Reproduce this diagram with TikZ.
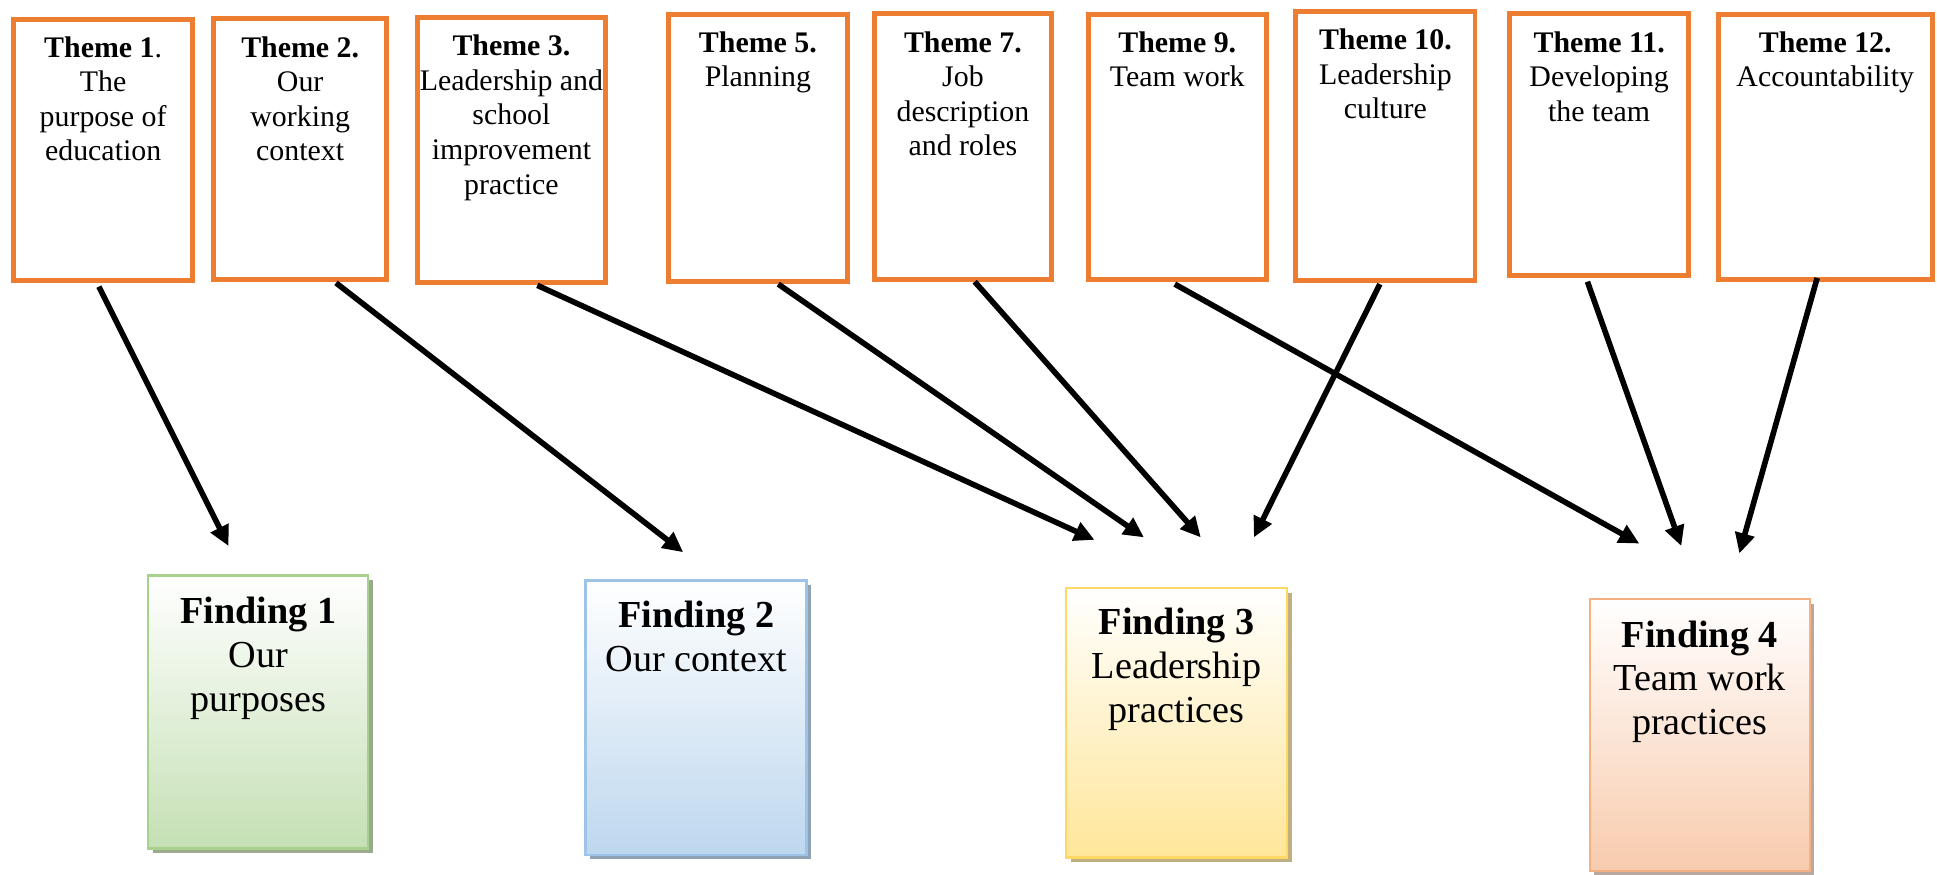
\documentclass[tikz,border=0pt]{standalone}
\usepackage{fontspec}
\setmainfont{Liberation Serif}
\usetikzlibrary{arrows.meta,shadows}
\definecolor{themeorange}{HTML}{ED7D31}
\definecolor{gborder}{HTML}{A9D18E}\definecolor{gfill}{HTML}{C5E0B4}\definecolor{gshadow}{HTML}{9AAA8C}
\definecolor{bborder}{HTML}{9DC3E6}\definecolor{bfill}{HTML}{BDD7EE}\definecolor{bshadow}{HTML}{8FA2B6}
\definecolor{yborder}{HTML}{FFD966}\definecolor{yfill}{HTML}{FFE699}\definecolor{yshadow}{HTML}{BFB082}
\definecolor{oborder}{HTML}{F4B183}\definecolor{ofill}{HTML}{F8CBAD}\definecolor{oshadow}{HTML}{B8A8A0}
\tikzset{
  tbox/.style 2 args={draw=themeorange, line width=2.2pt, fill=white, inner sep=0pt, anchor=north west,
    minimum width=#1*0.55pt, minimum height=#2*0.55pt},
  ttext/.style={anchor=north, align=center, inner sep=0pt, font=\fontsize{13.3}{15.4}\selectfont},
  fbox/.style 2 args={line width=1.1pt, inner sep=0pt, anchor=north west,
    minimum width=#1*0.55pt, minimum height=#2*0.55pt},
  ftext/.style={anchor=north, align=center, inner sep=0pt, font=\fontsize{17}{19.5}\selectfont},
  link/.style={line width=2.5pt, -{Triangle[length=9pt,width=8.5pt]}},
  fshadow/.style={drop shadow={shadow xshift=2pt, shadow yshift=-2pt, fill=#1, opacity=1}}
}
\begin{document}
\begin{tikzpicture}[x=0.55pt,y=-0.55pt]
\useasboundingbox (0,0) rectangle (1568,708);

% theme boxes
\node[tbox={145}{211}] (t1) at (9,14) {};
\node[tbox={140}{211}] (t2) at (171,13) {};
\node[tbox={152}{215}] (t3) at (336,12) {};
\node[tbox={145}{216}] (t5) at (539,10) {};
\node[tbox={143}{215}] (t7) at (706,9) {};
\node[tbox={144}{214}] (t9) at (879,10) {};
\node[tbox={145}{218}] (t10) at (1047,7) {};
\node[tbox={145}{212}] (t11) at (1220,9) {};
\node[tbox={173}{214}] (t12) at (1389,10) {};

\node[ttext] (t1x) at (t1.north |- 0,29) {\textbf{Theme 1}.\\The\\purpose of\\education};
\node[ttext] (t2x) at (t2.north |- 0,29) {\textbf{Theme 2.}\\Our\\working\\context};
\node[ttext] (t3x) at (t3.north |- 0,28) {\textbf{Theme 3.}\\Leadership and\\school\\improvement\\practice};
\node[ttext] (t5x) at (t5.north |- 0,25) {\textbf{Theme 5.}\\Planning};
\node[ttext] (t7x) at (t7.north |- 0,25) {\textbf{Theme 7.}\\Job\\description\\and roles};
\node[ttext] (t9x) at (t9.north |- 0,25) {\textbf{Theme 9.}\\Team work};
\node[ttext] (t10x) at (t10.north |- 0,23) {\textbf{Theme 10.}\\Leadership\\culture};
\node[ttext] (t11x) at (t11.north |- 0,25) {\textbf{Theme 11.}\\Developing\\the team};
\node[ttext] (t12x) at (t12.north |- 0,25) {\textbf{Theme 12.}\\Accountability};

% finding boxes
\node[fbox={178}{221}, draw=gborder, top color=white, bottom color=gfill, fshadow=gshadow] (f1) at (119,465) {};
\node[fbox={179}{222}, draw=bborder, top color=white, bottom color=bfill, fshadow=bshadow] (f2) at (473,469) {};
\node[fbox={179}{218}, draw=yborder, top color=white, bottom color=yfill, fshadow=yshadow] (f3) at (862,475) {};
\node[fbox={178}{220}, draw=oborder, top color=white, bottom color=ofill, fshadow=oshadow] (f4) at (1286,484) {};

\node[ftext] (f1x) at ([shift={(0,18)}]f1.north) {\textbf{Finding 1}\\Our\\purposes};
\node[ftext] (f2x) at ([shift={(0,17)}]f2.north) {\textbf{Finding 2}\\Our context};
\node[ftext] (f3x) at ([shift={(0,17)}]f3.north) {\textbf{Finding 3}\\Leadership\\practices};
\node[ftext] (f4x) at ([shift={(0,18)}]f4.north) {\textbf{Finding 4}\\Team work\\practices};

% arrow tips (free ends)
\coordinate (e1) at (185,442);
\coordinate (e2) at (553,447);
\coordinate (e3) at (886,437);
\coordinate (e4) at (926,435);
\coordinate (e5) at (972,435);
\coordinate (e6) at (1015,435);
\coordinate (e7) at (1327,440);
\coordinate (e8) at (1361,442);
\coordinate (e9) at (1408,448);

\draw[link] ([shift={(-3.5,3)}]t1.south) -- (e1);
\draw[link] ([shift={(29,1)}]t2.south) -- (e2);
\draw[link] ([shift={(21,0)}]t3.south) -- (e3);
\draw[link] ([shift={(16.5,0)}]t5.south) -- (e4);
\draw[link] ([shift={(9.5,0)}]t7.south) -- (e5);
\draw[link] ([shift={(-4.5,1)}]t10.south) -- (e6);
\draw[link] ([shift={(-2,2)}]t9.south) -- (e7);
\draw[link] ([shift={(-9.5,3)}]t11.south) -- (e8);
\draw[link] ([shift={(-6.5,-3)}]t12.south) -- (e9);
\end{tikzpicture}
\end{document}
